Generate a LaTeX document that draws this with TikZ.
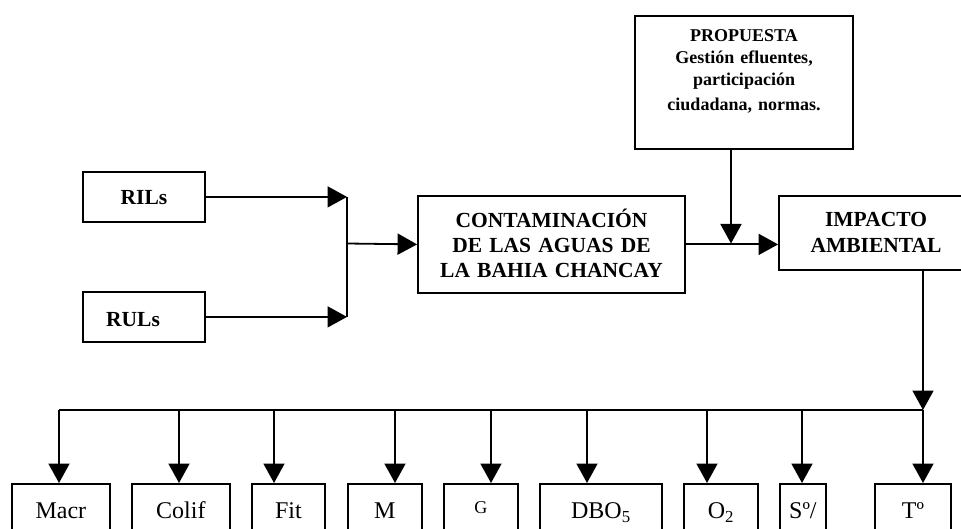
\documentclass[tikz,border=0pt]{standalone}
\usepackage{fontspec}
\setmainfont{Liberation Serif}
\usetikzlibrary{arrows.meta}
\begin{document}
\begin{tikzpicture}[x=1pt,y=-1pt,line width=1.8pt,
  box/.style={draw,rectangle,inner ysep=0pt,inner xsep=0pt},
  bold/.style={font=\fontsize{21.5}{25}\selectfont\bfseries},
  pbold/.style={font=\fontsize{18}{22}\selectfont\bfseries},
  reg/.style={font=\fontsize{24}{28}\selectfont},
  small/.style={font=\fontsize{18}{22}\selectfont},
  bottombox/.style={box,reg,anchor=north west,text height=35pt,text depth=60pt},
  arr/.style={-{Triangle[length=19.5pt,width=21pt]}}]
\useasboundingbox (0,0) rectangle (961,529);
\clip (0,0) rectangle (961,529);

% top boxes
\node[box,bold,minimum width=122pt,text height=33pt,text depth=17pt,anchor=north] (ril) at (144,171) {RILs};
\node[box,bold,minimum width=122pt,text height=35pt,text depth=15pt,anchor=north] (rul) at (144,291) {RULs\hspace*{22pt}};
\node[box,bold,text width=267pt,align=center,text height=32pt,text depth=65pt,anchor=north] (cont) at (551.5,195) {CONTAMINACIÓN\\DE LAS AGUAS DE\\LA BAHIA CHANCAY};
\node[box,bold,text width=194pt,align=center,text height=31pt,text depth=43pt,anchor=north] (imp) at (876,195) {IMPACTO\\[1pt]AMBIENTAL};
\node[box,pbold,text width=218pt,align=center,text height=26pt,text depth=107pt,anchor=north] (prop) at (744,15) {PROPUESTA\\Gestión efluentes,\\participación\\[3pt]ciudadana, normas.};

% bottom boxes
\node[bottombox,minimum width=98pt] (macr) at (11,483) {Macr};
\node[bottombox,minimum width=98pt] (colif) at (131,483) {Colif};
\node[bottombox,minimum width=73pt] (fit) at (251,483) {Fit};
\node[bottombox,minimum width=74pt] (m) at (347,483) {M};
\node[box,small,anchor=north west,text height=30pt,text depth=60pt,minimum width=74pt] (g) at (443,483) {G};
\node[bottombox,minimum width=122pt] (dbo) at (539,483) {DBO\textsubscript{5}};
\node[bottombox,minimum width=74pt] (o2) at (683,483) {O\textsubscript{2}};
\node[bottombox,minimum width=46pt] (s) at (779,483) {Sº/};
\node[bottombox,minimum width=76pt] (t) at (874,483) {Tº};

% coordinates
\coordinate (j1) at (347,243.5);
\coordinate (pj) at (731,243.5);
\coordinate (tj) at (923,410);
\coordinate (a1) at (59,410);
\coordinate (a2) at (179,410);
\coordinate (a3) at (274,410);
\coordinate (a4) at (395,410);
\coordinate (a5) at (491,410);
\coordinate (a6) at (587,410);
\coordinate (a7) at (707,410);
\coordinate (a8) at (802,410);

% connectors
\draw[arr] (ril.east) -- (ril.east -| j1);
\draw[arr] (rul.east) -- (rul.east -| j1);
\draw (ril.east -| j1) -- (rul.east -| j1);
\draw[arr] (j1) -- (cont.west);
\draw[arr] (cont.east) -- (cont.east -| imp.west);
\draw[arr] (prop.south -| pj) -- (pj);
\draw[arr] (imp.south -| tj) -- (tj);
\draw (a1) -- (tj);
\draw[arr] (a1) -- (a1 |- macr.north);
\draw[arr] (a2) -- (a2 |- colif.north);
\draw[arr] (a3) -- (a3 |- fit.north);
\draw[arr] (a4) -- (a4 |- m.north);
\draw[arr] (a5) -- (a5 |- g.north);
\draw[arr] (a6) -- (a6 |- dbo.north);
\draw[arr] (a7) -- (a7 |- o2.north);
\draw[arr] (a8) -- (a8 |- s.north);
\draw[arr] (tj) -- (tj |- t.north);
\end{tikzpicture}
\end{document}
